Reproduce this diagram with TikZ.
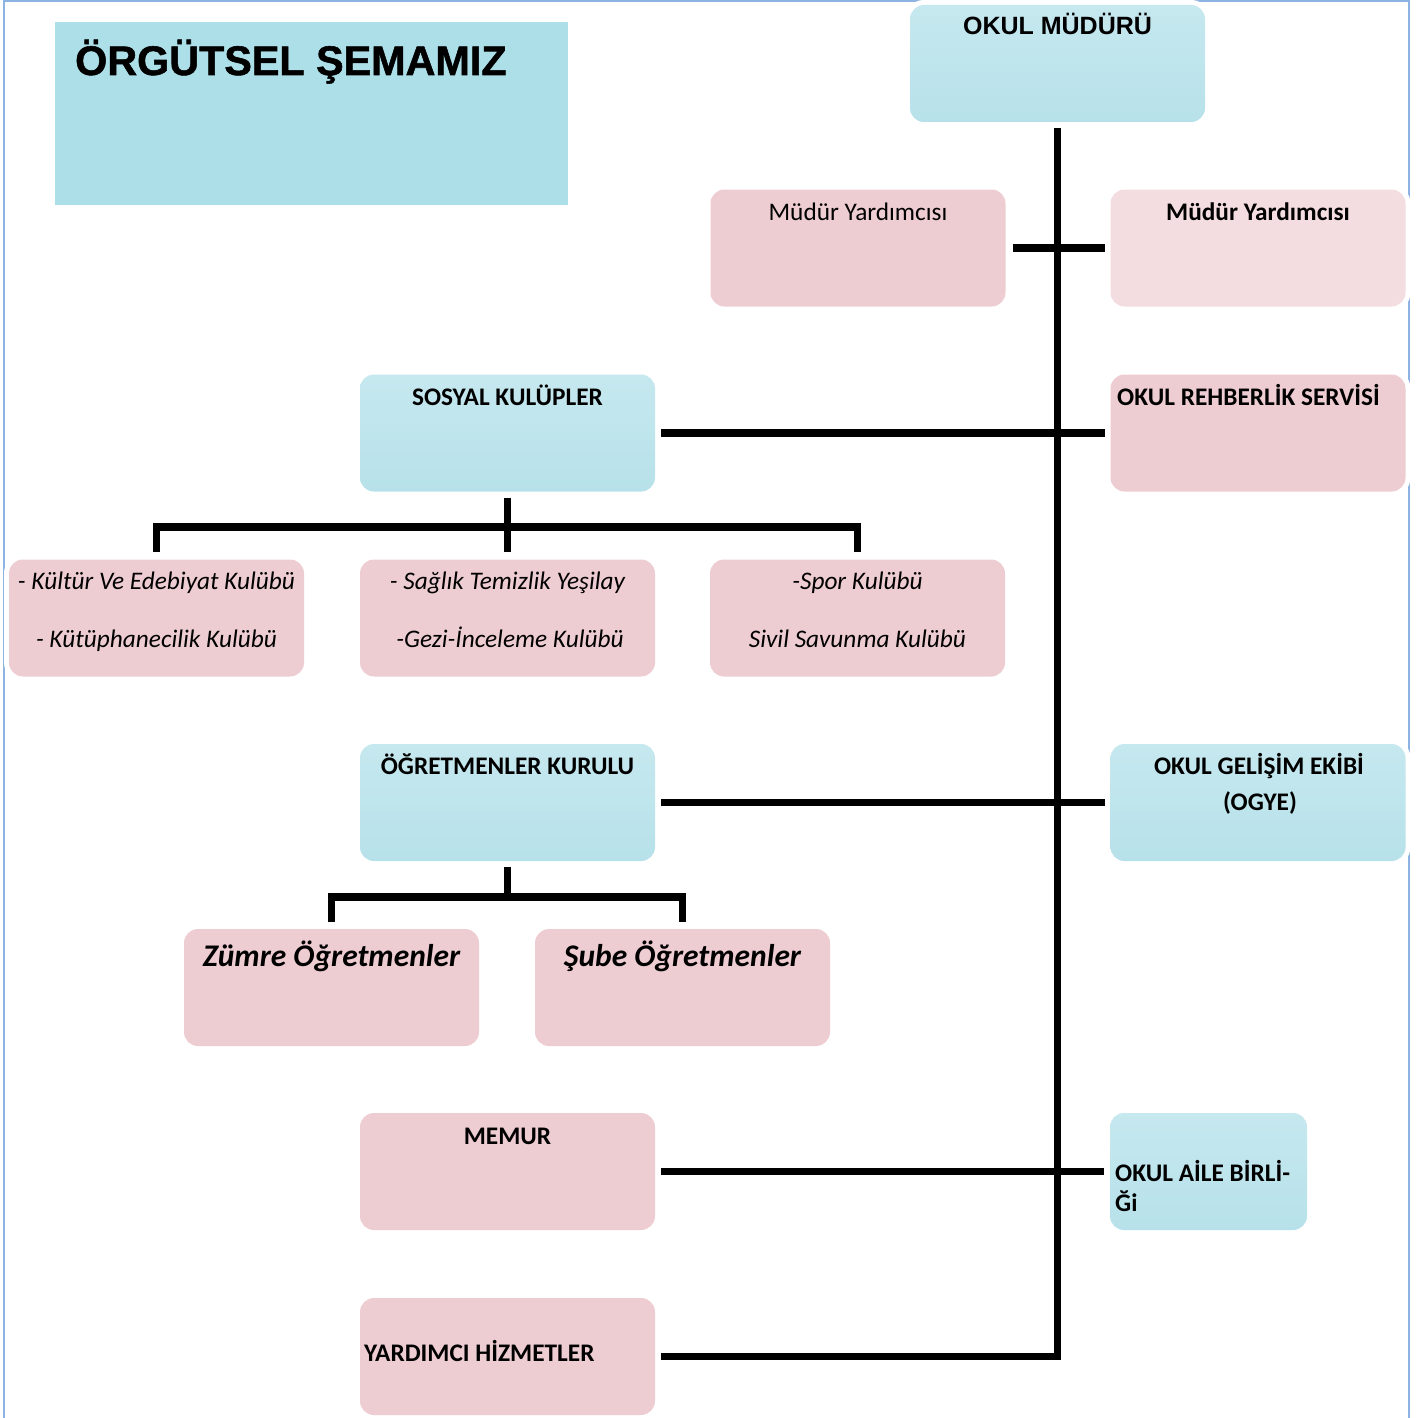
\documentclass[tikz,border=0pt]{standalone}
\usepackage{fontspec}
\setmainfont{Carlito}
\newfontfamily\arialfont{Liberation Sans}
\newfontfamily\arialheavy{Liberation Sans Bold}[FakeBold=1.3]
\definecolor{titleblue}{RGB}{173,223,232}
\definecolor{boxblue}{RGB}{198,232,239}
\definecolor{boxbluedark}{RGB}{183,225,234}
\definecolor{boxpink}{RGB}{238,205,210}
\definecolor{boxpinklight}{RGB}{244,221,225}
\definecolor{framecol}{RGB}{141,179,226}
\begin{document}
\begin{tikzpicture}[x=1pt,y=-1pt,
  box/.style={rectangle, rounded corners=14pt, inner sep=0pt, outer sep=0pt,
    minimum width=295pt, minimum height=117pt,
    preaction={draw=white, line width=10pt}},
  bluebox/.style={box, top color=boxblue, bottom color=boxbluedark},
  pinkbox/.style={box, fill=boxpink},
  palebox/.style={box, fill=boxpinklight},
  conn/.style={line width=7.5pt, black},
  txt/.style={anchor=base, inner sep=0pt, font=\fontsize{25.3}{30}\selectfont},
  txtb/.style={txt, font=\bfseries\fontsize{25.3}{30}\selectfont},
  txti/.style={txt, font=\itshape\fontsize{25.3}{30}\selectfont},
  txtbig/.style={txt, font=\bfseries\itshape\fontsize{31.5}{36}\selectfont},
  frameline/.style={draw=framecol, line width=2pt}
]
\useasboundingbox (0,0) rectangle (1424,1418);
% page frame
\draw[frameline] (4,1418) -- (4,1) -- (1409,1) -- (1409,1418);

% title
\node[rectangle, fill=titleblue, inner sep=0pt, minimum width=513pt, minimum height=183pt, anchor=north west] (titlebox) at (55,22) {};
\node[anchor=base west, inner sep=0pt, font=\arialheavy\fontsize{41.3}{50}\selectfont] (ttitle) at (75,75) {ÖRGÜTSEL ŞEMAMIZ};

% boxes
\node[bluebox] (mudur)   at (1057.5,63.5) {};
\node[pinkbox] (myl)     at (858,248) {};
\node[palebox] (myr)     at (1258,248) {};
\node[bluebox] (sosyal)  at (507.5,433) {};
\node[pinkbox] (rehber)  at (1258,433) {};
\node[pinkbox] (kultur)  at (156.5,618) {};
\node[pinkbox] (saglik)  at (507.5,618) {};
\node[pinkbox] (spor)    at (857.5,618) {};
\node[bluebox] (ogr)     at (507.5,802.5) {};
\node[bluebox] (gelisim) at (1258,802.5) {};
\node[pinkbox] (zumre)   at (331.5,987.5) {};
\node[pinkbox] (sube)    at (682.5,987.5) {};
\node[pinkbox] (memur)   at (507.5,1171.5) {};
\node[bluebox, minimum width=197pt] (aile) at (1208.5,1171.5) {};
\node[pinkbox] (yard)    at (507.5,1356.5) {};

% texts
\node[txt, font=\arialfont\bfseries\fontsize{25}{30}\selectfont] (tmudur) at (1057.5,35) {OKUL MÜDÜRÜ};
\node[txt] (tmyl) at (858,220) {Müdür Yardımcısı};
\node[txtb] (tmyr) at (1258,220) {Müdür Yardımcısı};
\node[txtb] (tsosyal) at (507.5,405) {SOSYAL KULÜPLER};
\node[txtb, anchor=base west] (trehber) at (1117,405) {OKUL REHBERLİK SERVİSİ};
\node[txti] (tkultur1) at (156.5,589) {- Kültür Ve Edebiyat Kulübü};
\node[txti] (tkultur2) at (156.5,647) {- Kütüphanecilik Kulübü};
\node[txti] (tsaglik1) at (507.5,589) {- Sağlık Temizlik Yeşilay};
\node[txti] (tsaglik2) at (510,647) {-Gezi-İnceleme Kulübü};
\node[txti] (tspor1) at (857.5,589) {-Spor Kulübü};
\node[txti] (tspor2) at (857.5,647) {Sivil Savunma Kulübü};
\node[txtb] (togr) at (507.5,774) {ÖĞRETMENLER KURULU};
\node[txtb] (tgel1) at (1259,774) {OKUL GELİŞİM EKİBİ};
\node[txtb] (tgel2) at (1260,810) {(OGYE)};
\node[txtbig] (tzumre) at (331.5,966) {Zümre Öğretmenler};
\node[txtbig] (tsube) at (682.5,966) {Şube Öğretmenler};
\node[txtb] (tmemur) at (507.5,1144) {MEMUR};
\node[txtb, anchor=base west] (taile1) at (1115,1181) {OKUL AİLE BİRLİ-};
\node[txtb, anchor=base west] (taile2) at (1115,1211) {Ği};
\node[txtb, anchor=base west] (tyard) at (364,1361) {YARDIMCI HİZMETLER};

% connectors
\coordinate (trunkend) at (1057.5,1356.5);
\coordinate (sj) at (507.5,527);
\coordinate (oj) at (507.5,897);
\draw[conn, shorten <=6pt, shorten >=6pt] (mudur.south) -- (trunkend) -- (yard.east);
\draw[conn, shorten <=7pt, shorten >=6pt] (myl.east) -- (myr.west);
\draw[conn, shorten <=6pt, shorten >=6pt] (sosyal.east) -- (rehber.west);
\draw[conn, shorten <=6pt, shorten >=6pt] (ogr.east) -- (gelisim.west);
\draw[conn, shorten <=6pt, shorten >=6pt] (memur.east) -- (aile.west);
\draw[conn, shorten <=6pt, shorten >=8pt] (sosyal.south) -- (saglik.north);
\draw[conn, shorten <=8pt, shorten >=8pt] (kultur.north) |- (sj) -| (spor.north);
\draw[conn, shorten <=6pt] (ogr.south) -- (oj);
\draw[conn, shorten <=7pt, shorten >=7pt] (zumre.north) |- (oj) -| (sube.north);
\end{tikzpicture}
\end{document}
